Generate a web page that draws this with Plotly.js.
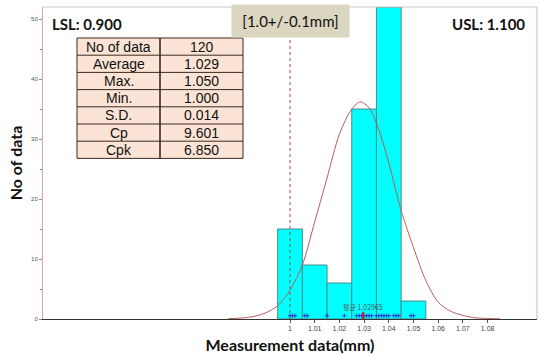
<!DOCTYPE html>
<html>
<head>
<meta charset="utf-8">
<script src="https://cdn.plot.ly/plotly-3.0.1.min.js"></script>
<style>html,body{margin:0;padding:0;background:#fff;}#chart{width:541px;height:356px;}</style>
</head>
<body>
<div id="chart"></div>
<script>
// Histogram bins (centers) and counts
const binCenters = [1.00, 1.01, 1.02, 1.03, 1.04, 1.05];
const binCounts = [15, 9, 6, 35, 52, 3];
const binWidth = 0.01;

// Fitted distribution curve
const curveX = [0.975, 0.98, 0.985, 0.99, 0.995, 1.0, 1.005, 1.01, 1.015, 1.02, 1.025, 1.0285, 1.032, 1.036, 1.04, 1.045, 1.05, 1.055, 1.06, 1.065, 1.07, 1.075, 1.08, 1.085];
const curveY = [0.05, 0.15, 0.4, 1.0, 2.2, 4.8, 9.0, 16.2, 23.5, 30.8, 35.0, 36.2, 35.2, 31.5, 26.0, 18.1, 11.9, 6.4, 2.8, 1.3, 0.6, 0.2, 0.08, 0.03];

// Individual data marks along the baseline
const rugX = [1.000, 1.001, 1.002, 1.006, 1.007, 1.015, 1.022, 1.027, 1.028, 1.029, 1.030, 1.031, 1.032, 1.033, 1.035, 1.036, 1.037, 1.038, 1.039, 1.040, 1.042, 1.043, 1.044, 1.049, 1.050];

// Statistics table
const statLabels = ['No of data', 'Average', 'Max.', 'Min.', 'S.D.', 'Cp', 'Cpk'];
const statValues = ['120', '1.029', '1.050', '1.000', '0.014', '9.601', '6.850'];

// Spec / axis
const meanValue = 1.02965;
const nominal = 1.0;
const lslText = 'LSL: 0.900';
const uslText = 'USL: 1.100';
const specText = '[1.0+/-0.1mm]';
const meanText = '평균 1.02965';
const xTickVals = [1, 1.01, 1.02, 1.03, 1.04, 1.05, 1.06, 1.07, 1.08];
const xTickText = ['1', '1.01', '1.02', '1.03', '1.04', '1.05', '1.06', '1.07', '1.08'];

const W = 541, H = 356;
const M = {l: 43, r: 4, t: 7, b: 37};
const pw = W - M.l - M.r, ph = H - M.t - M.b;
const px2x = p => (p - M.l) / pw;
const px2y = p => (H - M.b - p) / ph;

// table frame in pixels
const tbl = {left: 77, mid: 160, right: 243, top: 38, rowH: 17.2};

const shapes = [
  {type: 'line', xref: 'paper', yref: 'paper', x0: 1, x1: 1, y0: 0, y1: 1,
   line: {color: '#dcb0b0', width: 1}},
  {type: 'line', xref: 'paper', yref: 'paper', x0: 0, x1: 1, y0: 1, y1: 1,
   line: {color: '#c8c8c8', width: 1}},
  {type: 'line', xref: 'x', yref: 'paper', x0: nominal, x1: nominal, y0: 0, y1: 1,
   line: {color: '#a84848', width: 1, dash: 'dot'}, layer: 'above'},
  {type: 'line', xref: 'x', yref: 'y', x0: meanValue, x1: meanValue, y0: -0.2, y1: 1.2,
   line: {color: '#e01030', width: 2}, layer: 'above'}
];
const annotations = [];

const nRows = statLabels.length;
const tblBottom = tbl.top + nRows * tbl.rowH;
shapes.push({type: 'rect', xref: 'paper', yref: 'paper',
  x0: px2x(tbl.left), x1: px2x(tbl.right), y0: px2y(tblBottom), y1: px2y(tbl.top),
  fillcolor: '#fbe4d5', line: {color: '#3b2b1f', width: 1}, layer: 'above'});
shapes.push({type: 'line', xref: 'paper', yref: 'paper',
  x0: px2x(tbl.mid), x1: px2x(tbl.mid), y0: px2y(tblBottom), y1: px2y(tbl.top),
  line: {color: '#2b1d12', width: 1.5}, layer: 'above'});
for (let i = 1; i < nRows; i++) {
  const yy = px2y(tbl.top + i * tbl.rowH);
  shapes.push({type: 'line', xref: 'paper', yref: 'paper',
    x0: px2x(tbl.left), x1: px2x(tbl.right), y0: yy, y1: yy,
    line: {color: '#3b2b1f', width: 1}, layer: 'above'});
}
const cellFont = {family: 'Liberation Sans, Arial, sans-serif', size: 14, color: '#111'};
statLabels.forEach((lab, i) => {
  const yc = px2y(tbl.top + (i + 0.5) * tbl.rowH);
  annotations.push({xref: 'paper', yref: 'paper', x: px2x((tbl.left + tbl.mid) / 2), y: yc,
    xanchor: 'center', yanchor: 'middle', text: lab, showarrow: false, font: cellFont});
  annotations.push({xref: 'paper', yref: 'paper', x: px2x((tbl.mid + tbl.right) / 2), y: yc,
    xanchor: 'center', yanchor: 'middle', text: statValues[i], showarrow: false, font: cellFont});
});

annotations.push(
  {xref: 'paper', yref: 'paper', x: px2x(50), y: px2y(24), xanchor: 'left', yanchor: 'middle',
   text: lslText, showarrow: false,
   font: {family: 'Lato, sans-serif', size: 15, color: '#111', weight: 'bold'}},
  {xref: 'paper', yref: 'paper', x: px2x(527), y: px2y(24), xanchor: 'right', yanchor: 'middle',
   text: uslText, showarrow: false,
   font: {family: 'Lato, sans-serif', size: 15, color: '#111', weight: 'bold'}},
  {xref: 'x', yref: 'paper', x: nominal, y: px2y(21), xanchor: 'center', yanchor: 'middle',
   text: specText, showarrow: false, bgcolor: '#dad6c0', width: 113, height: 28, borderpad: 2,
   font: {family: 'Lato, sans-serif', size: 15, color: '#111'}},
  {xref: 'x', yref: 'y', x: meanValue, y: 0.9, xanchor: 'center', yanchor: 'bottom',
   text: meanText, showarrow: false,
   font: {family: 'Noto Sans CJK KR, sans-serif', size: 7, color: '#555'}}
);

const traces = [
  {
    type: 'bar', x: binCenters, y: binCounts, width: binWidth,
    marker: {color: '#00ffff', line: {color: '#4a8c8c', width: 1}},
    hoverinfo: 'none'
  },
  {
    type: 'scatter', mode: 'markers', x: rugX, y: rugX.map(() => 0.55),
    marker: {symbol: 'cross-thin', size: 3, line: {color: '#2a3fd0', width: 1}},
    hoverinfo: 'none'
  },
  {
    type: 'scatter', mode: 'lines', x: curveX, y: curveY,
    line: {color: '#b85c5c', width: 1, shape: 'spline', smoothing: 0.8},
    hoverinfo: 'none'
  }
];

const layout = {
  width: W, height: H,
  margin: {l: M.l, r: M.r, t: M.t, b: M.b, pad: 0},
  paper_bgcolor: '#ffffff', plot_bgcolor: '#ffffff',
  showlegend: false,
  bargap: 0,
  xaxis: {
    range: [0.9, 1.1], tickmode: 'array', tickvals: xTickVals, ticktext: xTickText,
    ticks: 'outside', ticklen: 3, tickcolor: '#555', tickwidth: 1,
    tickfont: {family: 'Liberation Sans, Arial', size: 7, color: '#444'},
    showline: true, linecolor: '#333', linewidth: 1,
    showgrid: false, zeroline: false, automargin: false,
    title: {text: 'Measurement data(mm)', standoff: 8,
            font: {family: 'Lato, sans-serif', size: 16, color: '#111', weight: 'bold'}}
  },
  yaxis: {
    range: [0, 52], tickmode: 'linear', tick0: 0, dtick: 10,
    ticks: 'outside', ticklen: 3, tickcolor: '#888', tickwidth: 1,
    minor: {tick0: 0, dtick: 5, ticks: 'outside', ticklen: 2, tickcolor: '#888', showgrid: false},
    tickfont: {family: 'Liberation Sans, Arial', size: 6, color: '#555'},
    showline: true, linecolor: '#d8a4a4', linewidth: 1,
    showgrid: false, zeroline: false, automargin: false,
    title: {text: 'No of data', standoff: 4,
            font: {family: 'Lato, sans-serif', size: 16, color: '#111', weight: 'bold'}}
  },
  shapes: shapes,
  annotations: annotations
};

Plotly.newPlot('chart', traces, layout, {staticPlot: true, displayModeBar: false});
</script>
</body>
</html>
